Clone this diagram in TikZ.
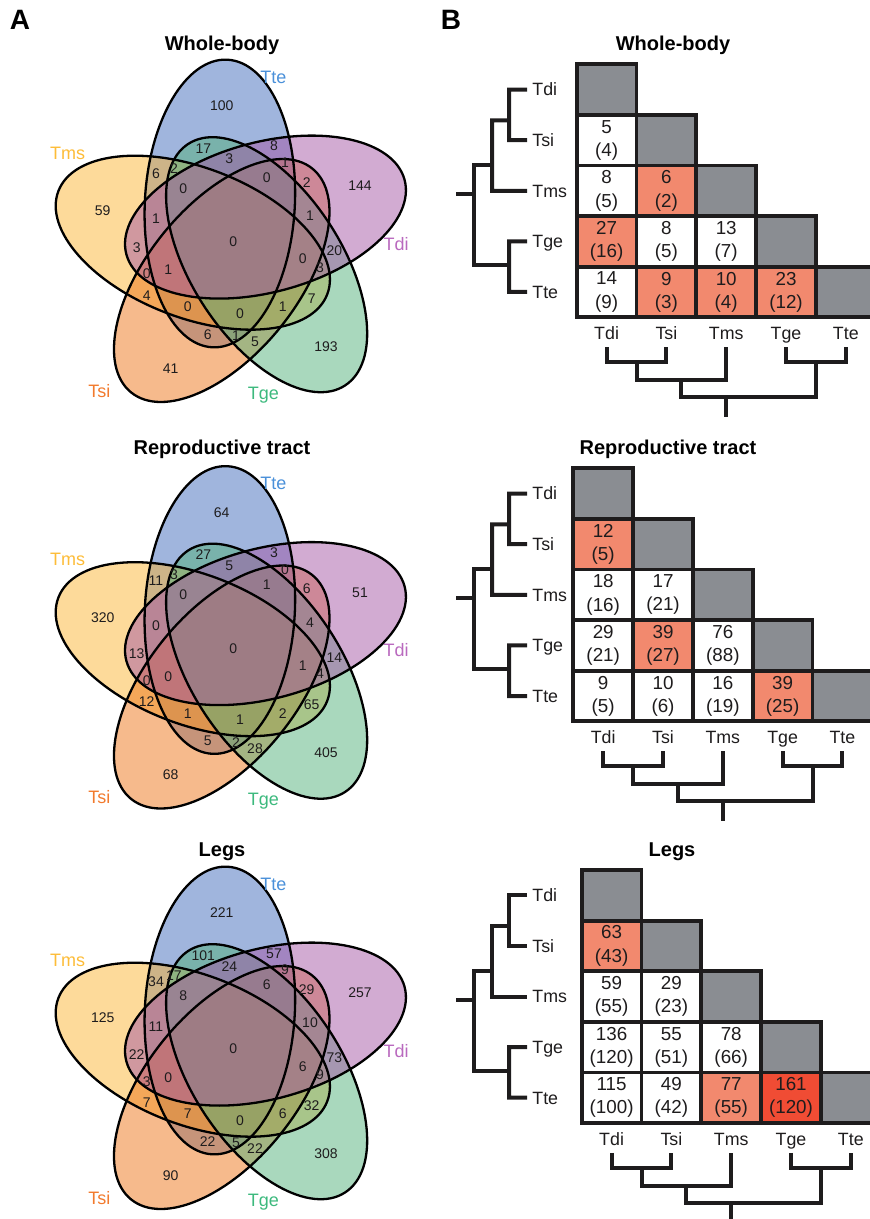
\documentclass[tikz,border=0pt]{standalone}
\usepackage{fontspec}
\setmainfont{Liberation Sans}
\usetikzlibrary{calc}

% set fills (drawn half transparent) and set-name colours
\definecolor{fTte}{RGB}{65,107,187}
\definecolor{fTdi}{RGB}{165,87,165}
\definecolor{fTge}{RGB}{83,177,123}
\definecolor{fTsi}{RGB}{237,117,25}
\definecolor{fTms}{RGB}{251,181,53}
\definecolor{lTte}{RGB}{74,144,217}
\definecolor{lTdi}{RGB}{185,105,190}
\definecolor{lTge}{RGB}{60,185,125}
\definecolor{lTsi}{RGB}{242,122,45}
\definecolor{lTms}{RGB}{253,188,56}
% matrix cell colours
\definecolor{cgray}{RGB}{138,141,146}
\definecolor{csalmon}{RGB}{242,137,110}
\definecolor{cred}{RGB}{240,76,52}
\definecolor{ink}{RGB}{30,28,29}

\tikzset{
  panelletter/.style={font=\fontsize{14}{16}\selectfont\bfseries, inner sep=0pt, text height=10pt, text depth=0pt},
  title/.style={font=\fontsize{10}{12}\selectfont\bfseries, inner sep=0pt, text height=7.2pt, text depth=0pt},
  vnum/.style={font=\fontsize{7}{8}\selectfont, text=ink, inner sep=0pt, text height=5pt, text depth=0pt},
  vlab/.style={font=\fontsize{9}{11}\selectfont, inner sep=0pt, text height=6.4pt, text depth=0pt},
  vfill/.style={fill opacity=0.5, draw=none},
  vline/.style={draw=black, line width=1.15pt},
  cellbox/.style={draw=ink, line width=1.9pt, minimum width=29.9pt, minimum height=25.3pt,
    inner sep=0pt, align=center, font=\fontsize{9.4}{11.6}\selectfont, text=ink},
  rowlab/.style={font=\fontsize{8.9}{11}\selectfont, anchor=west, inner xsep=2.5pt, inner ysep=0pt,
    text height=6.35pt, text depth=0pt, text=ink},
  collab/.style={font=\fontsize{8.9}{11}\selectfont, inner xsep=0pt, inner ysep=3.5pt,
    text height=6.35pt, text depth=0pt, text=ink},
  tree/.style={draw=ink, line width=2pt},
}

% five-set Venn diagram: #1 name prefix, #2 vertical offset, #3 the 31 region counts
% ellipse k: centre offset angle -109.4+72k, major axis angle 93+72k (Tte, Tdi, Tge, Tsi, Tms)
\newcommand\venn[3]{%
  \coordinate (#1C) at (233.3,{241.7+#2});
  \foreach \i in {0,...,4}{%
    \pgfmathsetmacro\vphi{-109.4+72*\i}%
    \coordinate (#1e\i) at ($(#1C)+(\vphi:40.5)$);
  }
  % fills, stacked Tte, Tms, Tsi, Tge, Tdi
  \foreach \i/\c in {0/fTte,4/fTms,3/fTsi,2/fTge,1/fTdi}{%
    \pgfmathsetmacro\vth{93+72*\i}%
    \fill[vfill, fill=\c, rotate around={-\vth:(#1e\i)}] (#1e\i) ellipse [x radius=72pt, y radius=37.5pt];
  }
  \foreach \i in {0,...,4}{%
    \pgfmathsetmacro\vth{93+72*\i}%
    \draw[vline, rotate around={-\vth:(#1e\i)}] (#1e\i) ellipse [x radius=72pt, y radius=37.5pt];
  }
  \foreach \x/\y [count=\i from 0] in {221.7/105.7, 203.3/148.3, 274/146, 156/174, 174/168.3,
      229.3/159, 285/162.7, 183.3/188.3, 266.7/177.7, 306.7/182.3, 360/185.7, 102.7/210.7,
      156/219, 310/215.7, 136.7/247.3, 233.3/241.7, 334.3/250.7, 302.7/259, 320/267.3,
      146.7/274, 168.3/270, 146.7/295, 311.7/298.3, 187.7/306.7, 240/313.3, 282.7/306.7,
      207.7/334, 236/335.7, 255/341.7, 326/346, 170.7/368.3}{%
    \pgfmathtruncatemacro\val{{#3}[\i]}%
    \node[vnum] (#1n\i) at (\x,{\y+#2}) {\val};
  }
  \node[vlab, text=lTte] (#1Tte) at (273.3,{76.7+#2}) {Tte};
  \node[vlab, text=lTms] (#1Tms) at (67.7,{152.7+#2}) {Tms};
  \node[vlab, text=lTdi] (#1Tdi) at (396,{244+#2}) {Tdi};
  \node[vlab, text=lTsi] (#1Tsi) at (99.3,{390.7+#2}) {Tsi};
  \node[vlab, text=lTge] (#1Tge) at (263.3,{392.7+#2}) {Tge};
}

% pairwise matrix with its two trees: #1 name prefix, #2 grid left, #3 grid top
\newcommand\mpanel[3]{%
  \pgfmathsetmacro\gx{#2}\pgfmathsetmacro\gy{#3}%
  \foreach \k in {0,...,4}{%
    \node[cellbox, fill=cgray] (#1d\k) at ({\gx+(\k+0.5)*59.8},{\gy+(\k+0.5)*50.6}) {};
  }
  \foreach \s [count=\k from 0] in {Tdi,Tsi,Tms,Tge,Tte}{%
    \node[rowlab] (#1r\s) at (527,{\gy+(\k+0.5)*50.6}) {\s};
    \node[collab] (#1c\s) at ({\gx+(\k+0.5)*59.8},{\gy+269}) {\s};
  }
  % tree beside the rows
  \coordinate (#1ta) at (509,{\gy+25.3});
  \coordinate (#1tb) at (509,{\gy+75.9});
  \coordinate (#1j1) at (509,{\gy+56});
  \coordinate (#1j1l) at (492,{\gy+56});
  \coordinate (#1tm) at (492,{\gy+126.5});
  \coordinate (#1tc) at (509,{\gy+177.1});
  \coordinate (#1td) at (509,{\gy+227.7});
  \coordinate (#1j2) at (492,{\gy+101});
  \coordinate (#1j2l) at (474.3,{\gy+101});
  \coordinate (#1j3) at (509,{\gy+201});
  \coordinate (#1j3l) at (474.3,{\gy+201});
  \coordinate (#1rt) at (474.3,{\gy+130});
  \coordinate (#1rt0) at (456,{\gy+130});
  \draw[tree] (#1rTdi.west) -- (#1ta) -- (#1tb) -- (#1rTsi.west);
  \draw[tree] (#1j1) -- (#1j1l) -- (#1tm) -- (#1rTms.west);
  \draw[tree] (#1rTge.west) -- (#1tc) -- (#1td) -- (#1rTte.west);
  \draw[tree] (#1j2) -- (#1j2l) -- (#1j3l) -- (#1j3);
  \draw[tree] (#1rt) -- (#1rt0);
  % tree below the columns
  \coordinate (#1u0) at ({\gx+29.9},{\gy+298});
  \coordinate (#1u1) at ({\gx+89.7},{\gy+298});
  \coordinate (#1v1) at ({\gx+59.8},{\gy+298});
  \coordinate (#1v1d) at ({\gx+59.8},{\gy+315.5});
  \coordinate (#1u2) at ({\gx+149.5},{\gy+315.5});
  \coordinate (#1u3) at ({\gx+209.3},{\gy+298});
  \coordinate (#1u4) at ({\gx+269.1},{\gy+298});
  \coordinate (#1v3) at ({\gx+239.2},{\gy+298});
  \coordinate (#1w1) at ({\gx+104.65},{\gy+315.5});
  \coordinate (#1w1d) at ({\gx+104.65},{\gy+333});
  \coordinate (#1w3d) at ({\gx+239.2},{\gy+333});
  \coordinate (#1rb) at ({\gx+149.5},{\gy+333});
  \coordinate (#1rb0) at ({\gx+149.5},{\gy+353});
  \draw[tree] (#1cTdi.south) -- (#1u0) -- (#1u1) -- (#1cTsi.south);
  \draw[tree] (#1v1) -- (#1v1d) -- (#1u2) -- (#1cTms.south);
  \draw[tree] (#1cTge.south) -- (#1u3) -- (#1u4) -- (#1cTte.south);
  \draw[tree] (#1w1) -- (#1w1d) -- (#1w3d) -- (#1v3);
  \draw[tree] (#1rb) -- (#1rb0);
}

% one filled matrix cell: name, column, row, fill, count, count in brackets
\newcommand\mcell[6]{%
  \node[cellbox, fill=#4] (#1) at ({\gx+(#2+0.5)*59.8},{\gy+(#3+0.5)*50.6}) {#5\\#6};
}

\begin{document}
\begin{tikzpicture}[x=0.5pt, y=-0.5pt]
  \useasboundingbox (0,0) rectangle (870,1219);

  \node[panelletter] (A) at (20,20) {A};
  \node[panelletter] (B) at (451,20) {B};

  \node[title] (ta1) at (222,43) {Whole-body};
  \node[title] (tb1) at (673,43) {Whole-body};
  \node[title] (ta2) at (222,447) {Reproductive tract};
  \node[title] (tb2) at (668,447) {Reproductive tract};
  \node[title] (ta3) at (222,849) {Legs};
  \node[title] (tb3) at (672,849) {Legs};

  % Venn diagrams
  \venn{wb}{0}{100,17,8,6,2,3,1,0,0,2,144,59,1,1,3,0,20,0,3,0,1,4,7,0,0,1,6,1,5,193,41}
  \venn{rt}{406.5}{64,27,3,11,3,5,0,0,1,6,51,320,0,4,13,0,14,1,4,0,0,12,65,1,1,2,5,2,28,405,68}
  \venn{lg}{807}{221,101,57,34,17,24,9,8,6,29,257,125,11,10,22,0,73,6,9,3,0,7,32,7,0,6,22,5,22,308,90}

  % whole-body matrix
  \mpanel{p}{576.7}{64.3}
  \mcell{p10}{0}{1}{white}{5}{(4)}
  \mcell{p20}{0}{2}{white}{8}{(5)}
  \mcell{p21}{1}{2}{csalmon}{6}{(2)}
  \mcell{p30}{0}{3}{csalmon}{27}{(16)}
  \mcell{p31}{1}{3}{white}{8}{(5)}
  \mcell{p32}{2}{3}{white}{13}{(7)}
  \mcell{p40}{0}{4}{white}{14}{(9)}
  \mcell{p41}{1}{4}{csalmon}{9}{(3)}
  \mcell{p42}{2}{4}{csalmon}{10}{(4)}
  \mcell{p43}{3}{4}{csalmon}{23}{(12)}

  % reproductive tract matrix
  \mpanel{q}{573.3}{468.3}
  \mcell{q10}{0}{1}{csalmon}{12}{(5)}
  \mcell{q20}{0}{2}{white}{18}{(16)}
  \mcell{q21}{1}{2}{white}{17}{(21)}
  \mcell{q30}{0}{3}{white}{29}{(21)}
  \mcell{q31}{1}{3}{csalmon}{39}{(27)}
  \mcell{q32}{2}{3}{white}{76}{(88)}
  \mcell{q40}{0}{4}{white}{9}{(5)}
  \mcell{q41}{1}{4}{white}{10}{(6)}
  \mcell{q42}{2}{4}{white}{16}{(19)}
  \mcell{q43}{3}{4}{csalmon}{39}{(25)}

  % legs matrix
  \mpanel{s}{581.7}{870}
  \mcell{s10}{0}{1}{csalmon}{63}{(43)}
  \mcell{s20}{0}{2}{white}{59}{(55)}
  \mcell{s21}{1}{2}{white}{29}{(23)}
  \mcell{s30}{0}{3}{white}{136}{(120)}
  \mcell{s31}{1}{3}{white}{55}{(51)}
  \mcell{s32}{2}{3}{white}{78}{(66)}
  \mcell{s40}{0}{4}{white}{115}{(100)}
  \mcell{s41}{1}{4}{white}{49}{(42)}
  \mcell{s42}{2}{4}{csalmon}{77}{(55)}
  \mcell{s43}{3}{4}{cred}{161}{(120)}
\end{tikzpicture}
\end{document}
